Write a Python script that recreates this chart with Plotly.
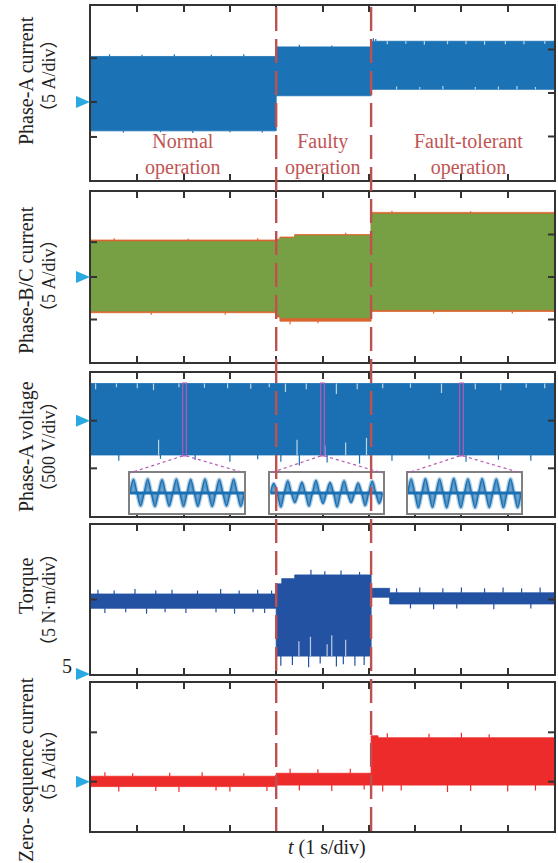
import plotly.graph_objects as go

# ---------------- data ----------------
time_range = [0.0, 10.0]                 # 1 s/div, 10 divisions
x_tick_vals = [1, 2, 3, 4, 5, 6, 7, 8, 9]
event_times = [4.0, 6.05]                # fault onset, fault-tolerant control on

phase_texts = ["Normal<br>operation", "Faulty<br>operation", "Fault-tolerant<br>operation"]
phase_text_t = [1.98, 5.01, 8.15]

# Phase-A current envelope (A)
ia_bounds = [0.0, 4.0, 6.05, 10.0]
ia_upper = [4.2, 5.3, 5.95]
ia_lower = [-4.35, -0.32, 0.42]
ia_spike_t = [0.4, 1.1, 1.8, 2.6, 3.3, 0.7, 1.5, 2.2, 3.0, 3.7, 4.5, 5.2, 6.1, 6.15,
              6.4, 6.8, 7.2, 7.7, 8.1, 8.5, 8.95, 9.35, 9.8,
              6.6, 7.1, 7.6, 8.3, 8.8, 9.2, 9.6]
ia_spike_v = [4.45, 4.4, 4.45, 4.4, 4.45, -4.55, -4.5, -4.6, -4.5, -4.55, 5.55, 5.45, 6.3, 6.2,
              5.6, 5.65, 5.55, 5.6, 5.6, 5.55, 5.6, 5.6, 5.65,
              0.75, 0.7, 0.8, 0.7, 0.75, 0.8, 0.7]

# Phase-B/C current envelopes (A)
ibc_bounds = [0.0, 4.0, 4.08, 4.4, 6.05, 10.0]
ib_upper = [4.35, 4.45, 4.7, 5.0, 7.6]
ib_lower = [-4.2, -4.7, -5.2, -5.2, -4.05]
ic_upper = [4.15, 4.3, 4.55, 4.85, 7.4]
ic_lower = [-4.0, -4.4, -4.8, -4.8, -3.85]
ib_spike_t = [0.5, 1.3, 2.1, 2.9, 3.6, 4.3, 4.9, 5.5, 6.5, 7.4, 8.2, 9.1]
ib_spike_v = [4.55, -4.45, 4.5, -4.45, 4.55, -5.55, -5.45, 5.2, 7.8, -4.3, 7.75, -4.3]

# Phase-A voltage envelope (V)
ua_bounds = [0.0, 10.0]
ua_upper = [390.0]
ua_lower = [-360.0]
ua_spike_t = [0.1, 0.55, 1.0, 1.35, 1.9, 2.45, 2.95, 3.45, 3.85, 4.2, 4.65, 5.3, 5.75,
              6.3, 6.9, 7.57, 8.3, 8.85, 9.4, 9.8,
              0.6, 1.5, 2.25, 3.0, 3.6, 4.1, 4.5, 5.1, 5.8, 6.5, 7.3, 8.1, 8.8, 9.5,
              1.46, 4.45, 5.05, 5.5, 5.95]
ua_spike_v = [330, 350, 340, 320, 350, 345, 340, 335, 350, 300, 330, 280, 330,
              340, 345, 290, 330, 320, 345, 340,
              -420, -400, -410, -430, -405, -430, -470, -440, -450, -420, -405, -430, -410, -420,
              -200, -200, -260, -230, -180]

# Zoomed windows of the phase-A voltage (centre time, s) and their waveforms (p.u.)
zoom_t = [2.02, 5.0, 8.0]
inset_peaks = [
    [0.78, 0.8, 0.76, 0.8, 0.78, 0.8, 0.77, 0.79],
    [0.55, 0.7, 0.62, 0.72, 0.6, 0.7, 0.58, 0.68],
    [0.8, 0.82, 0.8, 0.83, 0.8, 0.82, 0.8, 0.81],
]
inset_troughs = [
    [-0.74, -0.78, -0.75, -0.77, -0.76, -0.78, -0.75, -0.77],
    [-0.8, -0.55, -0.75, -0.6, -0.8, -0.55, -0.72, -0.6],
    [-0.85, -0.82, -0.85, -0.84, -0.85, -0.83, -0.84, -0.85],
]

# Torque envelope (N·m)
te_bounds = [0.0, 4.0, 4.12, 4.4, 6.05, 6.45, 10.0]
te_upper = [5.37, 6.05, 6.4, 6.65, 5.75, 5.45]
te_lower = [4.41, 1.2, 1.2, 1.2, 5.15, 4.7]
te_spike_t = [0.15, 0.5, 0.95, 1.4, 1.75, 2.3, 2.8, 3.2, 3.6, 3.9,
              0.3, 0.75, 1.2, 1.6, 2.05, 2.7, 3.1, 3.5, 3.75,
              4.1, 4.35, 4.7, 4.95, 5.3, 5.45, 5.7, 5.9,
              4.75, 5.05, 5.4, 5.8,
              4.49, 4.74, 5.1, 5.2, 5.5,
              6.6, 7.1, 7.6, 8.0, 8.5, 8.9, 9.3, 9.7,
              6.9, 7.4, 7.9, 8.7, 9.5]
te_spike_v = [5.65, 5.6, 5.7, 5.6, 5.65, 5.6, 5.7, 5.6, 5.65, 5.6,
              4.1, 4.15, 4.05, 4.15, 4.1, 4.15, 4.05, 4.15, 4.1,
              0.55, 0.6, 0.45, 0.7, 0.5, 0.65, 0.55, 0.6,
              7.0, 6.9, 6.95, 6.85,
              2.2, 2.5, 2.0, 2.6, 2.3,
              5.75, 5.8, 5.75, 5.8, 5.75, 5.8, 5.75, 5.8,
              4.4, 4.35, 4.4, 4.35, 4.4]

# Zero-sequence current envelope (A)
i0_bounds = [0.0, 4.0, 6.05, 6.2, 10.0]
i0_upper = [0.55, 0.85, 4.65, 4.45]
i0_lower = [-0.5, -0.35, -0.35, -0.35]
i0_spike_t = [0.3, 0.9, 1.7, 2.4, 3.3, 0.6, 1.4, 1.9, 2.7, 3.0, 3.8,
              4.3, 4.9, 5.6, 4.5, 5.2, 5.9,
              6.4, 7.3, 8.0, 8.6, 6.3, 6.7, 7.7, 8.2, 9.0, 9.6]
i0_spike_v = [0.95, 0.85, 0.9, 0.95, 0.85, -1.0, -0.95, -1.05, -0.9, -1.0, -0.95,
              1.3, 1.25, 1.3, -0.9, -0.95, -0.8,
              4.9, 4.85, 4.95, 4.8, -1.0, -0.9, -1.05, -0.95, -1.0, -0.9]

# Channel zero markers, axis ranges and grid ticks (in each channel's units)
y_ranges = [[-10, 10], [-10, 10], [-1000, 500], [0, 10], [-5, 10]]
zero_marks = [-1.03, 0.0, 0.0, 0.0, 0.0]
left_ticks = [[4.0, -1.03, -5.05], [4.1, 0.0, -5.0], [0.0, -500.0], [5.0], [5.0, 0.0]]
right_ticks = [[-5, 0, 5], [-5, 0, 5], [0, -500], [5], [5, 0]]

titles = [
    ("Phase-A current", "5 A/div"),
    ("Phase-B/C current", "5 A/div"),
    ("Phase-A voltage", "500 V/div"),
    ("Torque", "5 N·m/div"),
    ("Zero- sequence current", "5 A/div"),
]

# ---------------- layout geometry (pixels) ----------------
W, H = 558, 863
ML, MR, MT, MB = 91, 2, 6, 32
panel_rows = [(6, 180), (192, 362), (373, 516), (525, 674), (683, 831)]
title_rows = [(81, 76), (280, 276), (447, 447), (586, 600), (770, 766)]
inset_cols = [(130, 245), (271, 384), (409, 523)]
inset_row = (473, 513)

plot_h = H - MT - MB
plot_w = W - ML - MR


def py(pix):
    return (H - MB - pix) / plot_h


def px(pix):
    return (pix - ML) / plot_w


domains = [[py(b), py(t)] for t, b in panel_rows]


def data_to_paper(k, v):
    lo, hi = y_ranges[k]
    d0, d1 = domains[k]
    return d0 + (v - lo) / (hi - lo) * (d1 - d0)


FONT = "Liberation Serif, Times New Roman, Noto Sans CJK SC, serif"
CJK = "Noto Sans CJK SC"
BOX = "#333333"

C_IA = "#1b72b5"
C_IB = "#dc6430"
C_IC = "#76a043"
C_UA = "#1a70b2"
C_TE = "#2352a3"
C_I0 = "#ee2b2b"
LIGHT = "rgba(255,255,255,0.7)"


def seg_index(bounds, t):
    for i in range(len(bounds) - 1):
        if bounds[i] <= t < bounds[i + 1]:
            return i
    return len(bounds) - 2


def band(bounds, upper, lower, color, k):
    xs, ys = [], []
    for i in range(len(upper)):
        xs += [bounds[i], bounds[i + 1]]
        ys += [upper[i], upper[i]]
    for i in reversed(range(len(lower))):
        xs += [bounds[i + 1], bounds[i]]
        ys += [lower[i], lower[i]]
    xs.append(xs[0])
    ys.append(ys[0])
    sfx = "" if k == 0 else str(k + 1)
    return go.Scatter(x=xs, y=ys, mode="lines", fill="toself", fillcolor=color,
                      line=dict(width=0.8, color=color), xaxis="x" + sfx, yaxis="y" + sfx,
                      hoverinfo="skip", showlegend=False)


def spikes(bounds, upper, lower, ts, vs, color, k):
    ox, oy, ix, iy = [], [], [], []
    for t, v in zip(ts, vs):
        i = seg_index(bounds, t)
        up, lo = upper[i], lower[i]
        if v > up:
            ox += [t, t, None]
            oy += [up, v, None]
        elif v < lo:
            ox += [t, t, None]
            oy += [lo, v, None]
        else:
            base = up if v > (up + lo) / 2 else lo
            ix += [t, t, None]
            iy += [base, v, None]
    sfx = "" if k == 0 else str(k + 1)
    return [
        go.Scatter(x=ox, y=oy, mode="lines", line=dict(width=1.2, color=color),
                   xaxis="x" + sfx, yaxis="y" + sfx, hoverinfo="skip", showlegend=False),
        go.Scatter(x=ix, y=iy, mode="lines", line=dict(width=1.2, color=LIGHT),
                   xaxis="x" + sfx, yaxis="y" + sfx, hoverinfo="skip", showlegend=False),
    ]


traces = []
traces.append(band(ia_bounds, ia_upper, ia_lower, C_IA, 0))
traces += spikes(ia_bounds, ia_upper, ia_lower, ia_spike_t, ia_spike_v, C_IA, 0)

traces.append(band(ibc_bounds, ib_upper, ib_lower, C_IB, 1))
traces += spikes(ibc_bounds, ib_upper, ib_lower, ib_spike_t, ib_spike_v, C_IB, 1)
traces.append(band(ibc_bounds, ic_upper, ic_lower, C_IC, 1))

traces.append(band(ua_bounds, ua_upper, ua_lower, C_UA, 2))
traces += spikes(ua_bounds, ua_upper, ua_lower, ua_spike_t, ua_spike_v, C_UA, 2)

traces.append(band(te_bounds, te_upper, te_lower, C_TE, 3))
traces += spikes(te_bounds, te_upper, te_lower, te_spike_t, te_spike_v, C_TE, 3)

traces.append(band(i0_bounds, i0_upper, i0_lower, C_I0, 4))
traces += spikes(i0_bounds, i0_upper, i0_lower, i0_spike_t, i0_spike_v, C_I0, 4)

# zoomed voltage waveforms
for j in range(3):
    ys = [0.0]
    for p, q in zip(inset_peaks[j], inset_troughs[j]):
        ys += [p, 0.0, q, 0.0]
    xs = [i * 0.25 for i in range(len(ys))]
    ax = str(6 + j)
    traces.append(go.Scatter(x=xs, y=ys, mode="lines",
                             line=dict(width=4, color="rgba(26,112,178,0.35)", shape="spline"),
                             xaxis="x" + ax, yaxis="y" + ax, hoverinfo="skip", showlegend=False))
    traces.append(go.Scatter(x=xs, y=ys, mode="lines", line=dict(width=1.4, color=C_UA, shape="spline"),
                             fill="tozeroy", fillcolor="rgba(26,112,178,0.6)",
                             xaxis="x" + ax, yaxis="y" + ax, hoverinfo="skip", showlegend=False))
    traces.append(go.Scatter(x=[0, len(inset_peaks[j])], y=[0, 0], mode="lines",
                             line=dict(width=3, color=C_UA),
                             xaxis="x" + ax, yaxis="y" + ax, hoverinfo="skip", showlegend=False))

fig = go.Figure(traces)

layout = dict(
    width=W, height=H,
    margin=dict(l=ML, r=MR, t=MT, b=MB, pad=0),
    paper_bgcolor="white", plot_bgcolor="white",
    showlegend=False, hovermode=False,
    font=dict(family=FONT, size=20, color="#222222"),
)

for k in range(5):
    sfx = "" if k == 0 else str(k + 1)
    layout["xaxis" + sfx] = dict(
        domain=[0, 1], range=time_range, anchor="y" + sfx,
        tickvals=x_tick_vals, ticks="inside", ticklen=6, tickwidth=2, tickcolor=BOX,
        showticklabels=False, showgrid=False, zeroline=False,
        showline=True, linecolor=BOX, linewidth=2, mirror="ticks",
    )
    layout["yaxis" + sfx] = dict(
        domain=domains[k], range=y_ranges[k], anchor="x" + sfx,
        ticks="", showticklabels=False, showgrid=False, zeroline=False,
        showline=True, linecolor=BOX, linewidth=2, mirror=True,
    )

for j in range(3):
    ax = str(6 + j)
    c0, c1 = inset_cols[j]
    layout["xaxis" + ax] = dict(
        domain=[px(c0), px(c1)], range=[0, len(inset_peaks[j])], anchor="y" + ax,
        showticklabels=False, ticks="", showgrid=False, zeroline=False,
        showline=True, linecolor="#808080", linewidth=2, mirror=True,
    )
    layout["yaxis" + ax] = dict(
        domain=[py(inset_row[1]), py(inset_row[0])], range=[-1.15, 1.15], anchor="x" + ax,
        showticklabels=False, ticks="", showgrid=False, zeroline=False,
        showline=True, linecolor="#808080", linewidth=2, mirror=True,
    )

fig.update_layout(**layout)

shapes = []
# event markers spanning all channels
for te in event_times:
    shapes.append(dict(type="line", xref="x", yref="paper", x0=te, x1=te, y0=0, y1=1.0,
                       line=dict(color="#c0504d", width=2.4, dash="24px,8px"), layer="above"))

# channel ticks and zero markers
for k in range(5):
    sfx = "" if k == 0 else str(k + 1)
    for v in left_ticks[k]:
        shapes.append(dict(type="line", xref="paper", yref="y" + sfx, xsizemode="pixel", xanchor=0,
                           x0=0, x1=6, y0=v, y1=v, line=dict(color=BOX, width=2), layer="above"))
    for v in right_ticks[k]:
        shapes.append(dict(type="line", xref="paper", yref="y" + sfx, xsizemode="pixel", xanchor=1,
                           x0=-6, x1=0, y0=v, y1=v, line=dict(color=BOX, width=2), layer="above"))
    shapes.append(dict(type="path", xref="paper", yref="paper",
                       xsizemode="pixel", ysizemode="pixel",
                       xanchor=0, yanchor=data_to_paper(k, zero_marks[k]),
                       path="M -15,6 L -1,0 L -15,-6 Z",
                       fillcolor="#29a9e0", line=dict(width=0), layer="above"))

# zoom windows on the voltage channel and their connectors
win_half = 0.04
win_top, win_bot = 395.0, -370.0
for j, tz in enumerate(zoom_t):
    shapes.append(dict(type="rect", xref="x3", yref="y3", x0=tz - win_half, x1=tz + win_half,
                       y0=win_bot, y1=win_top, line=dict(color="#b45ab4", width=1.2), layer="above"))
    yb = data_to_paper(2, win_bot)
    c0, c1 = inset_cols[j]
    yt = py(inset_row[0])
    shapes.append(dict(type="line", xref="paper", yref="paper",
                       x0=(tz - win_half) / time_range[1], y0=yb, x1=px(c0), y1=yt,
                       line=dict(color="#b45ab4", width=1.2, dash="dot"), layer="above"))
    shapes.append(dict(type="line", xref="paper", yref="paper",
                       x0=(tz + win_half) / time_range[1], y0=yb, x1=px(c1), y1=yt,
                       line=dict(color="#b45ab4", width=1.2, dash="dot"), layer="above"))

fig.update_layout(shapes=shapes)

ann = []
for (l1, l2), (c1y, c2y) in zip(titles, title_rows):
    ann.append(dict(text=l1, xref="paper", yref="paper", x=0, y=py(c1y), xshift=26 - ML,
                    xanchor="center", yanchor="middle", textangle=-90, showarrow=False,
                    font=dict(size=20)))
    unit = (f"<span style=\"font-family:'{CJK}'\">（</span>" + l2 +
            f"<span style=\"font-family:'{CJK}'\">）</span>")
    ann.append(dict(text=unit, xref="paper", yref="paper", x=0, y=py(c2y), xshift=47 - ML,
                    xanchor="center", yanchor="middle", textangle=-90, showarrow=False,
                    font=dict(size=18)))

for txt, tx in zip(phase_texts, phase_text_t):
    ann.append(dict(text=txt, xref="x", yref="paper", x=tx, y=py(154), showarrow=False,
                    xanchor="center", yanchor="middle", font=dict(size=20, color="#bf5454")))

ann.append(dict(text="5", xref="paper", yref="paper", x=0, y=data_to_paper(3, 0.0),
                xshift=67 - ML, yshift=8, showarrow=False, xanchor="center", yanchor="middle",
                font=dict(size=20)))

ann.append(dict(text="<i>t</i> (1 s/div)", xref="paper", yref="paper", x=px(328), y=py(848),
                showarrow=False, xanchor="center", yanchor="middle", font=dict(size=20)))

fig.update_layout(annotations=ann)

fig.write_html("out.html")
